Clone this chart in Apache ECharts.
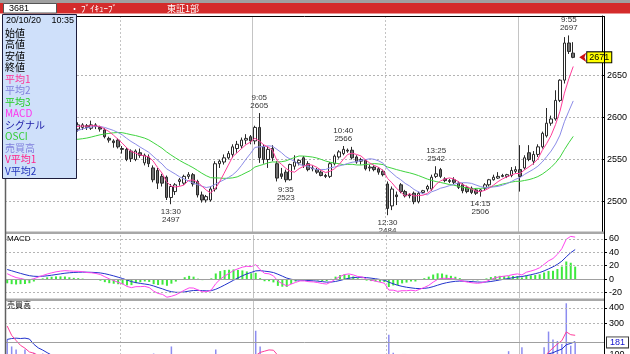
<!DOCTYPE html>
<html><head><meta charset="utf-8">
<script src="https://cdn.jsdelivr.net/npm/echarts@6/dist/echarts.min.js"></script>
<style>html,body{margin:0;padding:0;background:#fff;overflow:hidden}#c{width:630px;height:354px}</style>
</head><body><div id="c"></div>
<script>
// ---- sessions (start time, number of 5-min bars) ----
const sessions = [['9:20', 26], ['12:30', 30], ['9:00', 30], ['12:30', 30], ['9:00', 13]];
const blankSlots = 6;

// ---- bars before the window (only used to warm up the averages) ----
const prevCloses = [2535,2534,2536,2535,2533,2535,2536,2534,2535,2537,2535,2534,2536,2535,2534,2535,2536,2535,2540,2548,2558,2568,2576,2583,2588,2590,2586,2578,2572,2567];
const prevVolumes = [90,100,110,120,110,135,450,300,250,225];

// ---- OHLC, volume ----
const opens = [2566,2562,2560,2558,2559,2556,2558,2566,2572,2576,2580,2583,2586,2588,2590,2588,
2586,2588,2590,2587,2591,2588,2585,2575,2572,2573,2563,2562,2560,2550,2558,2546,2553,2540,2537,2530,2529,2505,2512,2524,2522,2530,2532,2524,2508,2502,2502,2515,2545,2547,2552,2556,2563,2566,2573,2577,
2572,2588,2565,2550,2563,2545,2533,2535,2526,2542,2546,2552,2545,2540,2538,2535,2531,2530,2545,2553,2557,2561,2561,2553,2548,2549,2540,2541,2539,2536,
2521,2495,2508,2520,2512,2507,2510,2500,2511,2515,2515,2530,2538,2527,2525,2526,2522,2520,2517,2516,2514,2512,2516,2520,2526,2528,2531,2530,2531,2536,
2538,2540,2558,2548,2556,2565,2578,2593,2598,2620,2644,2688,2676];
const highs = [2568,2565,2563,2562,2562,2560,2568,2574,2578,2582,2585,2588,2591,2593,2592,2591,
2594,2593,2592,2596,2593,2590,2587,2577,2574,2575,2566,2564,2562,2562,2563,2557,2556,2543,2540,2533,2531,2521,2522,2528,2532,2535,2534,2526,2512,2508,2518,2548,2550,2556,2560,2568,2572,2576,2580,2579,
2590,2605,2568,2565,2567,2548,2540,2538,2545,2555,2550,2554,2548,2543,2540,2537,2533,2547,2556,2561,2566,2563,2565,2555,2552,2550,2544,2543,2541,2538,
2524,2518,2512,2522,2514,2510,2512,2512,2514,2520,2532,2542,2540,2529,2527,2529,2524,2522,2519,2518,2516,2515,2522,2527,2532,2535,2533,2533,2541,2542,
2567,2555,2567,2560,2568,2583,2611,2602,2632,2645,2695,2697,2689];
const lows = [2560,2557,2555,2555,2553,2553,2557,2564,2570,2573,2577,2580,2583,2585,2584,2584,
2583,2585,2585,2585,2586,2583,2575,2570,2564,2563,2557,2548,2547,2548,2552,2543,2541,2523,2515,2518,2502,2497,2508,2519,2520,2527,2518,2505,2499,2499,2500,2512,2540,2544,2550,2552,2558,2563,2568,2568,
2568,2546,2545,2540,2548,2524,2527,2523,2525,2538,2543,2540,2536,2536,2533,2530,2528,2528,2543,2551,2555,2558,2550,2545,2544,2537,2536,2536,2532,2530,
2484,2490,2496,2510,2505,2504,2497,2498,2509,2512,2513,2528,2528,2523,2522,2521,2515,2510,2510,2509,2508,2506,2513,2518,2525,2527,2529,2528,2529,2534,
2512,2538,2548,2544,2553,2563,2576,2590,2596,2618,2640,2675,2670];
const closes = [2562,2560,2558,2559,2556,2558,2566,2572,2576,2580,2583,2586,2588,2590,2588,2589,
2591,2591,2588,2591,2589,2586,2577,2573,2570,2565,2562,2550,2551,2560,2555,2555,2545,2526,2522,2522,2505,2518,2520,2526,2530,2532,2521,2508,2502,2506,2515,2545,2548,2552,2557,2565,2568,2573,2575,2572,
2588,2552,2550,2562,2552,2528,2530,2526,2544,2547,2549,2543,2538,2539,2535,2531,2530,2545,2554,2559,2562,2560,2552,2547,2550,2539,2541,2538,2535,2532,
2492,2515,2506,2512,2507,2508,2500,2510,2513,2518,2529,2533,2530,2525,2524,2523,2517,2513,2512,2511,2510,2514,2520,2526,2529,2530,2530,2532,2537,2538,
2530,2552,2550,2556,2565,2581,2593,2598,2620,2644,2688,2678,2671];
const volumes = [200,155,135,95,135,80,115,70,110,60,50,60,45,55,40,50,
45,40,35,50,40,35,60,40,45,55,70,65,55,50,45,60,55,110,80,70,90,155,75,50,45,40,55,70,60,45,60,135,60,55,50,60,55,50,45,80,
255,155,90,85,70,90,60,70,65,55,40,45,40,35,40,35,30,60,65,55,60,40,50,45,35,40,30,30,35,45,
230,115,70,60,45,40,50,45,35,40,80,75,50,35,30,30,35,40,35,30,35,45,50,55,45,40,35,125,60,70,
150,75,70,60,65,150,250,200,190,170,430,160,181];

// ---- axis ticks / annotations ----
const priceTicks = [2500, 2550, 2600, 2650];
const macdTicks = [-20, 0, 20, 40, 60];
const macdGrid = [-20, 20, 40, 60];
const volTicks = [300, 400];
const volGrid = [300, 400];
const volCutLabel = '100';
const dashedSplitIdx = [26, 86];
const solidSplitIdx = [56, 116];
const markIdx   = [37, 57, 63, 76, 86, 97, 107, 127];
const markTime  = ['13:30', '9:05', '9:35', '10:40', '12:30', '13:25', '14:15', '9:55'];
const markPrice = [2497, 2605, 2523, 2566, 2484, 2542, 2506, 2697];
const markSide  = ['low', 'high', 'low', 'high', 'low', 'high', 'low', 'high'];
const lastPrice = 2671;
const lastVolume = 181;
const maPeriods = [5, 10, 20];
const macdPeriods = [5, 20, 9];
const volMaPeriods = [5, 10];

// ---- categories ----
const cats = [];
sessions.forEach(([st, n]) => {
  let [h, m] = st.split(':').map(Number);
  for (let k = 0; k < n; k++) { cats.push(h + ':' + String(m).padStart(2, '0')); m += 5; if (m >= 60) { m -= 60; h++; } }
});
for (let k = 0; k < blankSlots; k++) cats.push('');

// ---- indicators ----
const P = prevCloses.length, PV = prevVolumes.length;
const allC = prevCloses.concat(closes);
const allV = prevVolumes.concat(volumes);
function sma(arr, off, n) {
  return closes.map((_, i) => {
    const k = i + off; let s = 0, c = 0;
    for (let j = Math.max(0, k - n + 1); j <= k; j++) { s += arr[j]; c++; }
    return +(s / c).toFixed(2);
  });
}
function ema(arr, n) { const a = 2 / (n + 1); const out = []; arr.forEach((v, i) => out.push(i === 0 ? v : out[i - 1] + a * (v - out[i - 1]))); return out; }
const maLines = maPeriods.map(n => sma(allC, P, n));
const eS = ema(allC, macdPeriods[0]), eL = ema(allC, macdPeriods[1]);
const macdAll = allC.map((_, i) => eS[i] - eL[i]);
const sigAll = ema(macdAll, macdPeriods[2]);
const macd = macdAll.slice(P).map(v => +v.toFixed(2));
const signal = sigAll.slice(P).map(v => +v.toFixed(2));
const osci = macd.map((v, i) => +(v - signal[i]).toFixed(2));
const volMa = volMaPeriods.map(n => sma(allV, PV, n));
const candles = closes.map((c, i) => [opens[i], c, lows[i], highs[i]]);

// ---- styles ----
const FONT = 'Liberation Sans';
const JP = '"Noto Sans CJK JP"';
const gridDash = { type: [2, 2], color: '#b4b4b4', width: 1 };
function mkX(g, pos, idxs, type) {
  return { type: 'category', gridIndex: g, data: cats, position: pos, boundaryGap: true,
    axisLine: { show: false }, axisTick: { show: false }, axisLabel: { show: false },
    splitLine: { show: true, interval: (i) => idxs.includes(i), lineStyle: { color: '#c4c4c4', width: 1, type: type === 'dashed' ? [2, 2] : 'solid' } } };
}
function mkY(g, min, max, ticks) {
  return { type: 'value', gridIndex: g, position: 'right', min, max, scale: true,
    axisLine: { show: true, lineStyle: { color: '#000', width: 1 } },
    axisTick: { show: true, customValues: ticks, length: 3, lineStyle: { color: '#000' } },
    axisLabel: { show: true, customValues: ticks, formatter: v => String(v), color: '#000', fontSize: 9, fontFamily: FONT, margin: 5 },
    splitLine: { show: false } };
}
function hLines(vals, style) { return vals.map(v => ({ yAxis: v, lineStyle: style })); }

const markPts = markIdx.map((idx, k) => {
  const hi = markSide[k] === 'high';
  return { coord: [idx, hi ? highs[idx] : lows[idx]], symbol: 'rect', symbolSize: 1,
    itemStyle: { color: 'rgba(0,0,0,0)' },
    label: { show: true, position: hi ? 'top' : 'bottom', distance: 3, formatter: markTime[k] + '\n' + markPrice[k],
      fontSize: 8, lineHeight: 8, color: '#333', fontFamily: FONT, align: 'center' } };
});
markPts.push({ coord: [closes.length - 1, lastPrice], symbol: 'arrow', symbolSize: [7, 7], symbolRotate: 90, symbolOffset: [6, 0],
  itemStyle: { color: '#cc1111' },
  label: { show: true, position: 'right', distance: 1, formatter: String(lastPrice), backgroundColor: '#ffff00', borderColor: '#000', borderWidth: 1,
    padding: [1, 2, 0, 2], fontSize: 9, color: '#000', fontFamily: FONT } });

const infoLabels = ['始値', '高値', '安値', '終値', '平均1', '平均2', '平均3', 'MACD', 'シグナル', 'OSCI', '売買高', 'V平均1', 'V平均2'];
const infoColors = ['#000', '#000', '#000', '#000', '#ff3399', '#8080dd', '#22cc22', '#ff33ee', '#2222aa', '#33cc33', '#8080dd', '#ff2288', '#2233bb'];

const graphic = [
  { type: 'rect', shape: { x: 0, y: 0, width: 630, height: 3 }, style: { fill: '#a0a0a0' }, z: 100 },
  { type: 'rect', shape: { x: 0, y: 3, width: 630, height: 10.5 }, style: { fill: '#d42b2b' }, z: 100 },
  { type: 'rect', shape: { x: 3.5, y: 3.5, width: 53, height: 9.5 }, style: { fill: '#fff', stroke: '#555', lineWidth: 1 }, z: 101 },
  { type: 'text', x: 9, y: 8.5, style: { text: '3681', fill: '#000', font: '9px ' + FONT, verticalAlign: 'middle' }, z: 102 },
  { type: 'text', x: 70, y: 8.5, style: { text: '・ ﾌﾞｲｷｭｰﾌﾞ', fill: '#fff', font: '9px ' + JP, verticalAlign: 'middle' }, z: 102 },
  { type: 'text', x: 167, y: 8.5, style: { text: '東証1部', fill: '#fff', font: '9px ' + JP, verticalAlign: 'middle' }, z: 102 },
  { type: 'rect', shape: { x: 5, y: 231.5, width: 599, height: 2.5 }, style: { fill: '#a8a8a8' }, z: 90 },
  { type: 'rect', shape: { x: 5, y: 298.5, width: 599, height: 2.5 }, style: { fill: '#a8a8a8' }, z: 90 },
  { type: 'line', shape: { x1: 5, y1: 16.5, x2: 604, y2: 16.5 }, style: { stroke: '#000', lineWidth: 1 }, z: 90 },
  { type: 'line', shape: { x1: 5.5, y1: 16, x2: 5.5, y2: 354 }, style: { stroke: '#606060', lineWidth: 1.5 }, z: 90 },
  { type: 'line', shape: { x1: 604.5, y1: 16, x2: 604.5, y2: 354 }, style: { stroke: '#000', lineWidth: 1 }, z: 90 },
  { type: 'line', shape: { x1: 604.5, y1: 354.5, x2: 607.5, y2: 354.5 }, style: { stroke: '#000', lineWidth: 1 }, z: 90 },
  { type: 'text', x: 609.5, y: 355, style: { text: volCutLabel, fill: '#000', font: '9px ' + FONT, verticalAlign: 'middle' }, z: 90 },
  { type: 'text', x: 7, y: 239, style: { text: 'MACD', fill: '#000', font: '8px ' + FONT, verticalAlign: 'middle' }, z: 95 },
  { type: 'text', x: 7, y: 305, style: { text: '売買高', fill: '#000', font: '8px ' + JP, verticalAlign: 'middle' }, z: 95 },
  { type: 'rect', shape: { x: 2.5, y: 14.5, width: 74, height: 164 }, style: { fill: '#cfe0fa', stroke: '#1c1c3c', lineWidth: 1 }, z: 110 },
  { type: 'text', x: 6, y: 20.5, style: { text: '20/10/20', fill: '#000', font: '9px ' + FONT, verticalAlign: 'middle' }, z: 111 },
  { type: 'text', x: 74, y: 20.5, style: { text: '10:35', fill: '#000', font: '9px ' + FONT, verticalAlign: 'middle', align: 'right' }, z: 111 }
];
infoLabels.forEach((t, k) => graphic.push({ type: 'text', x: 5, y: 33 + k * 11.5,
  style: { text: t, fill: infoColors[k], font: '10px ' + JP, verticalAlign: 'middle' }, z: 111 }));

const line = (name, data, color, xi, yi, extra) => Object.assign({ name, type: 'line', data, xAxisIndex: xi, yAxisIndex: yi,
  showSymbol: false, symbol: 'none', lineStyle: { color, width: 1 }, itemStyle: { color }, silent: true }, extra || {});

const option = {
  animation: false,
  backgroundColor: '#ffffff',
  grid: [
    { left: 5, right: 26, top: 16, height: 216 },
    { left: 5, right: 26, top: 235, height: 63 },
    { left: 5, right: 26, top: 301, height: 53 }
  ],
  xAxis: [0, 1, 2].flatMap(g => [mkX(g, 'bottom', dashedSplitIdx, 'dashed'), mkX(g, 'top', solidSplitIdx, 'solid')]),
  yAxis: [mkY(0, 2464.1, 2720, priceTicks), mkY(1, -28.2, 65.7, macdTicks), mkY(2, 107, 444.6, volTicks)],
  series: [
    { name: '株価', type: 'candlestick', data: candles, xAxisIndex: 0, yAxisIndex: 0, barWidth: 3,
      itemStyle: { color: '#ffffff', color0: '#707070', borderColor: '#2a2a2a', borderColor0: '#2a2a2a', borderWidth: 1 },
      markLine: { silent: true, symbol: ['none', 'none'], label: { show: false }, data: hLines(priceTicks, gridDash), z: 1 },
      markPoint: { silent: true, data: markPts } },
    line('平均3', maLines[2], '#3fd43f', 0, 0),
    line('平均2', maLines[1], '#8c8ce8', 0, 0),
    line('平均1', maLines[0], '#ff3d9a', 0, 0),
    { name: 'OSCI', type: 'bar', data: osci, xAxisIndex: 2, yAxisIndex: 1, barWidth: 2, itemStyle: { color: '#3ee83e' }, silent: true,
      markLine: { silent: true, symbol: ['none', 'none'], label: { show: false },
        data: hLines(macdGrid, gridDash).concat([{ yAxis: 0, lineStyle: { type: 'solid', color: '#a0a0a0', width: 1 } }]) } },
    line('シグナル', signal, '#2233cc', 2, 1),
    line('MACD', macd, '#ff44ee', 2, 1),
    { name: '売買高', type: 'bar', data: volumes, xAxisIndex: 4, yAxisIndex: 2, barWidth: 1.5, itemStyle: { color: '#8c8cf0' }, silent: true,
      markLine: { silent: true, symbol: ['none', 'none'], label: { show: false },
        data: hLines(volGrid, gridDash).concat([{ yAxis: lastVolume, lineStyle: { type: 'solid', color: '#a0a0a0', width: 1 },
          label: { show: true, position: 'end', distance: 3, formatter: String(lastVolume), color: '#1111cc', backgroundColor: '#fff',
            borderColor: '#333', borderWidth: 1, padding: [1, 3, 0, 3], fontSize: 9, fontFamily: FONT } }]) } },
    line('V平均2', volMa[1], '#2233cc', 4, 2),
    line('V平均1', volMa[0], '#ff3d9a', 4, 2)
  ],
  graphic
};
const chart = echarts.init(document.getElementById('c'), null, { renderer: 'canvas', width: 630, height: 354 });
chart.setOption(option);
</script></body></html>
